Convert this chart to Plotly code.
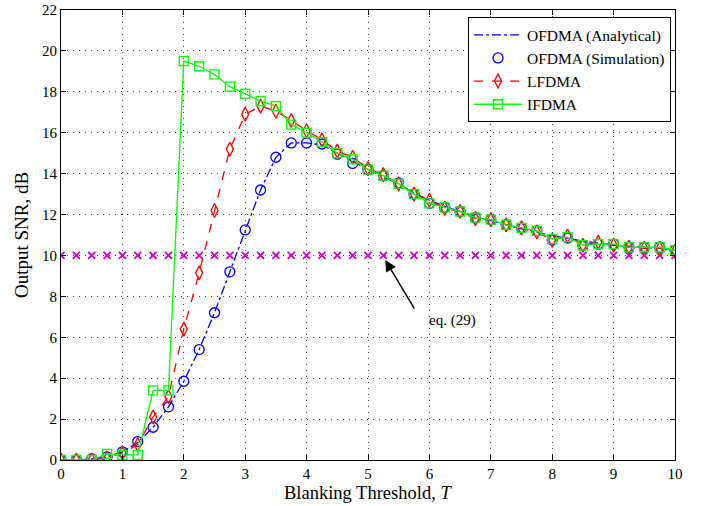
import plotly.graph_objects as go

threshold = [0.0, 0.25, 0.5, 0.75, 1.0, 1.25, 1.5, 1.75, 2.0, 2.25,
             2.5, 2.75, 3.0, 3.25, 3.5, 3.75, 4.0, 4.25, 4.5, 4.75,
             5.0, 5.25, 5.5, 5.75, 6.0, 6.25, 6.5, 6.75, 7.0, 7.25,
             7.5, 7.75, 8.0, 8.25, 8.5, 8.75, 9.0, 9.25, 9.5, 9.75, 10.0]

ofdma_analytical = [0.0, 0.0, 0.05, 0.15, 0.4, 0.85, 1.6, 2.6, 3.85, 5.4,
                    7.2, 9.2, 11.25, 13.2, 14.8, 15.5, 15.5, 15.4, 15.0, 14.6,
                    14.2, 13.85, 13.5, 13.05, 12.7, 12.4, 12.15, 11.9, 11.7, 11.5,
                    11.3, 11.15, 10.95, 10.85, 10.7, 10.6, 10.5, 10.45, 10.4, 10.35, 10.25]

ofdma_sim = [0.0, 0.0, 0.05, 0.15, 0.4, 0.9, 1.6, 2.6, 3.85, 5.4,
             7.2, 9.2, 11.25, 13.2, 14.8, 15.5, 15.5, 15.45, 14.95, 14.5,
             14.2, 13.9, 13.55, 13.0, 12.55, 12.35, 12.15, 11.85, 11.75, 11.5,
             11.35, 11.2, 10.75, 10.85, 10.5, 10.55, 10.55, 10.4, 10.4, 10.4, 10.25]

lfdma = [0.0, 0.0, 0.0, 0.1, 0.35, 0.75, 2.1, 3.1, 6.4, 9.15,
         12.2, 15.2, 16.9, 17.3, 17.05, 16.6, 16.1, 15.65, 15.1, 14.8,
         14.25, 13.95, 13.5, 13.0, 12.7, 12.3, 12.15, 11.8, 11.75, 11.5,
         11.35, 11.15, 10.75, 10.95, 10.5, 10.65, 10.5, 10.4, 10.35, 10.35, 10.2]

ifdma = [0.0, 0.0, 0.0, 0.3, 0.25, 0.25, 3.4, 3.4, 19.5, 19.25,
         18.85, 18.25, 17.9, 17.55, 17.3, 16.4, 16.0, 15.55, 15.0, 14.7,
         14.2, 13.9, 13.5, 13.0, 12.55, 12.35, 12.15, 11.85, 11.75, 11.5,
         11.35, 11.2, 10.8, 10.9, 10.5, 10.55, 10.55, 10.4, 10.4, 10.4, 10.25]

eq29 = [10.0, 10.0, 10.0, 10.0, 10.0, 10.0, 10.0, 10.0, 10.0, 10.0,
        10.0, 10.0, 10.0, 10.0, 10.0, 10.0, 10.0, 10.0, 10.0, 10.0,
        10.0, 10.0, 10.0, 10.0, 10.0, 10.0, 10.0, 10.0, 10.0, 10.0,
        10.0, 10.0, 10.0, 10.0, 10.0, 10.0, 10.0, 10.0, 10.0, 10.0, 10.0]

FONT = "Liberation Serif"

fig = go.Figure()

fig.add_trace(go.Scatter(
    x=threshold, y=eq29, mode="markers", showlegend=False,
    marker=dict(symbol="x-thin", size=7, line=dict(color="#cc00cc", width=1.8)),
))
fig.add_trace(go.Scatter(
    x=threshold, y=ofdma_analytical, mode="lines", name="OFDMA (Analytical)",
    line=dict(color="#0000ff", width=1.3, dash="dashdot"),
))
fig.add_trace(go.Scatter(
    x=threshold, y=ofdma_sim, mode="markers", name="OFDMA (Simulation)",
    marker=dict(symbol="circle-open", size=10, color="#0000ff", line=dict(width=1.3)),
))
fig.add_trace(go.Scatter(
    x=threshold, y=lfdma, mode="lines+markers", name="LFDMA",
    line=dict(color="#ff0000", width=1.3, dash="dash"),
    marker=dict(symbol="diamond-tall-open", size=10, color="#ff0000", line=dict(width=1.3)),
))
fig.add_trace(go.Scatter(
    x=threshold, y=ifdma, mode="lines+markers", name="IFDMA",
    line=dict(color="#00ff00", width=1.3),
    marker=dict(symbol="square-open", size=9, color="#00ff00", line=dict(width=1.3)),
))

# arrow
fig.add_annotation(
    x=5.28, y=9.78, xref="x", yref="y",
    ax=5.77, ay=7.33, axref="x", ayref="y",
    text="", showarrow=True, arrowhead=2, arrowsize=1.5, arrowwidth=1.5,
    arrowcolor="black", standoff=0,
)
# label
fig.add_annotation(
    x=6.37, y=6.8, xref="x", yref="y", text="eq. (29)", showarrow=False,
    font=dict(family=FONT, size=15, color="black"),
    xanchor="center", yanchor="middle",
)
# x-axis title
fig.add_annotation(
    x=0.5, y=-0.074, xref="paper", yref="paper",
    text="Blanking Threshold, <i>T</i>", showarrow=False,
    font=dict(family=FONT, size=18.5, color="black"),
    xanchor="center", yanchor="middle",
)

axis_common = dict(
    showline=True, linecolor="black", linewidth=1, mirror="allticks",
    ticks="inside", ticklen=5, tickcolor="black",
    showgrid=True, gridcolor="#444444", griddash="1px,5px", gridwidth=1,
    zeroline=False, tickfont=dict(family=FONT, size=15, color="black"),
    automargin=False,
)

fig.update_xaxes(range=[0, 10], dtick=1, tick0=0, **axis_common)
fig.update_yaxes(range=[0, 22], dtick=2, tick0=0,
                 title=dict(text="Output SNR, dB",
                            font=dict(family=FONT, size=19, color="black"), standoff=8),
                 **axis_common)

fig.update_layout(
    width=701, height=506,
    margin=dict(l=61, r=26, t=10, b=46),
    paper_bgcolor="white", plot_bgcolor="white",
    font=dict(family=FONT, color="black"),
    legend=dict(x=0.9935, y=0.984, xanchor="right", yanchor="top",
                bgcolor="white", bordercolor="black", borderwidth=1,
                font=dict(family=FONT, size=15.5, color="black"),
                itemwidth=48, tracegroupgap=0),
)

fig.write_html("out.html")
